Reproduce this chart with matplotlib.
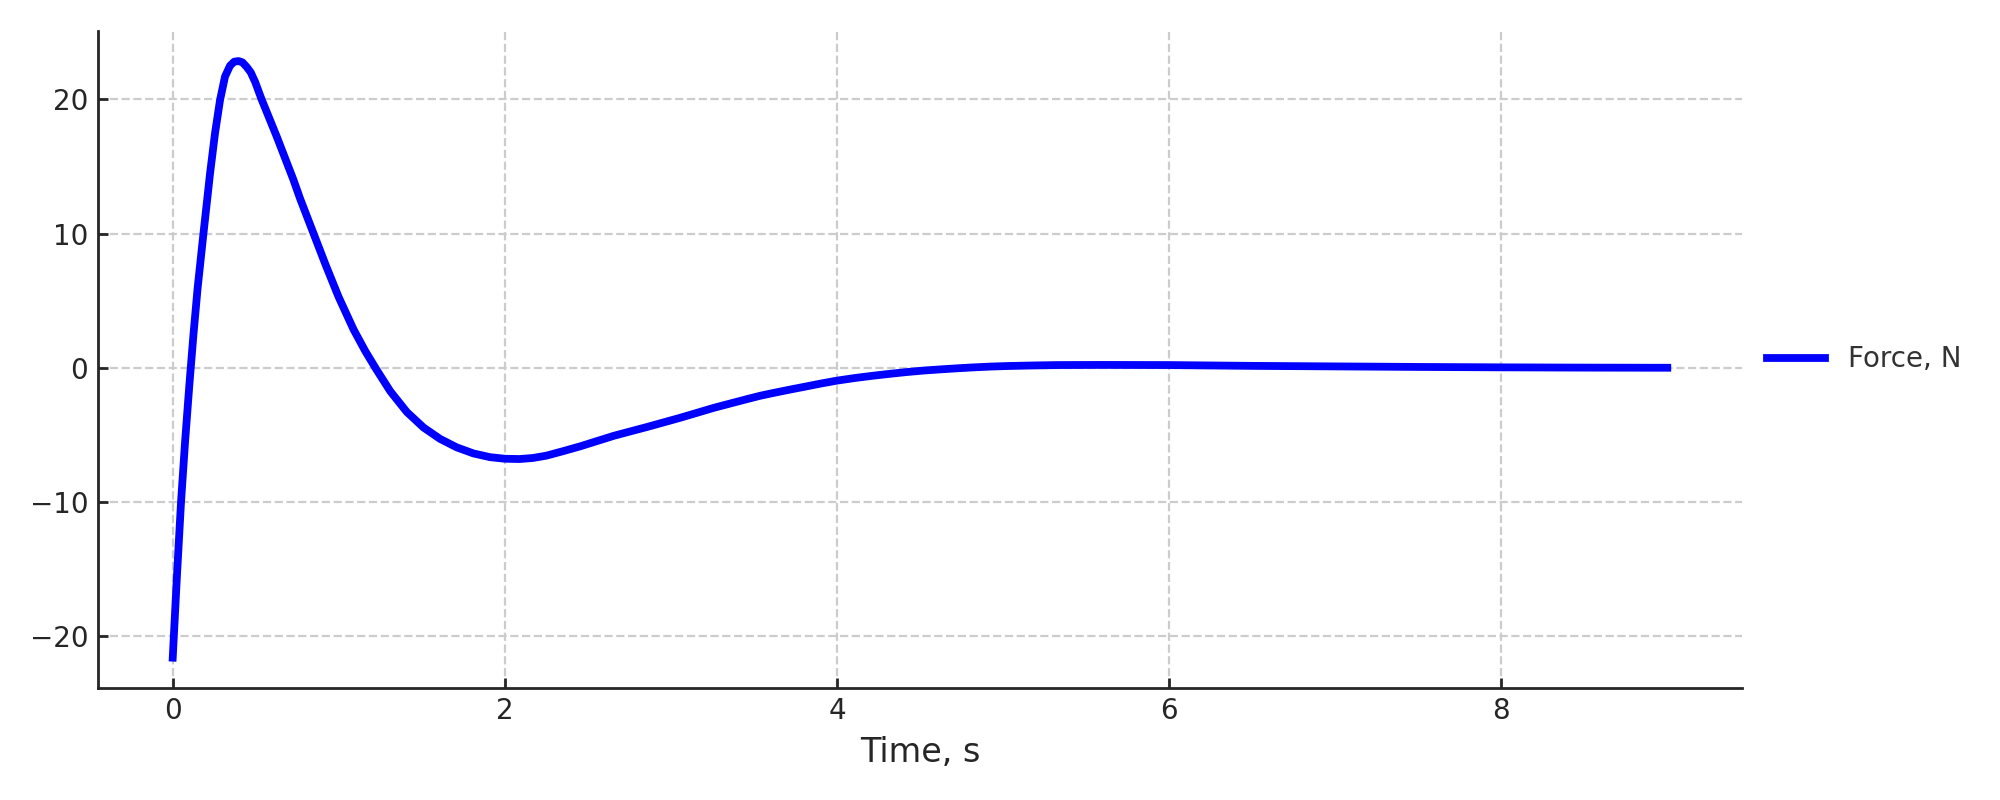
import matplotlib
matplotlib.use("Agg")
import matplotlib.pyplot as plt

time_s = [0, 0.025, 0.05, 0.075, 0.1, 0.125, 0.15, 0.185, 0.225, 0.255, 0.285, 0.315,
          0.345, 0.37, 0.396, 0.42, 0.446, 0.47, 0.496, 0.535, 0.627, 0.727, 0.767, 0.848,
          0.918, 0.998, 1.089, 1.159, 1.225, 1.31, 1.41, 1.51, 1.61, 1.71, 1.81, 1.91,
          2.0, 2.09, 2.17, 2.25, 2.355, 2.455, 2.656, 2.857, 3.058, 3.26, 3.46, 3.54,
          3.62, 3.72, 3.82, 3.91, 4.0, 4.11, 4.22, 4.32, 4.42, 4.52, 4.625, 4.726,
          4.826, 4.93, 5.03, 5.18, 5.33, 5.6, 6.0, 6.5, 7.0, 7.5, 8.0, 8.5, 9.0]
force_n = [-21.6, -15.6, -10.0, -5.4, -1.3, 2.5, 5.95, 10.0, 14.5, 17.5, 19.95, 21.7,
           22.5, 22.8, 22.85, 22.75, 22.4, 22.0, 21.3, 20.0, 17.2, 14.0, 12.6, 10.0,
           7.75, 5.3, 2.85, 1.25, -0.1, -1.75, -3.3, -4.45, -5.3, -5.93, -6.38, -6.66,
           -6.78, -6.8, -6.72, -6.55, -6.2, -5.85, -5.07, -4.41, -3.72, -2.98, -2.33, -2.08,
           -1.87, -1.62, -1.38, -1.16, -0.96, -0.76, -0.59, -0.45, -0.32, -0.21, -0.12, -0.04,
           0.03, 0.09, 0.13, 0.17, 0.2, 0.21, 0.2, 0.14, 0.1, 0.06, 0.03, 0.01, 0.0]

text_col = "#262626"
fig, ax = plt.subplots(figsize=(10, 4), dpi=200)
fig.subplots_adjust(left=0.049, right=0.871, bottom=0.1406, top=0.961)

ax.plot(time_s, force_n, color="blue", linewidth=2.8, label="Force, N")

ax.grid(True, linestyle="--", color="#cccccc", linewidth=0.8)
ax.set_axisbelow(True)
for s in ["top", "right"]:
    ax.spines[s].set_visible(False)
for s in ["left", "bottom"]:
    ax.spines[s].set_color(text_col)
    ax.spines[s].set_linewidth(1.0)

ax.tick_params(direction="in", length=3.5, width=1.0, color=text_col,
               labelsize=10, labelcolor=text_col)
ax.set_xticks([0, 2, 4, 6, 8])
ax.set_yticks([-20, -10, 0, 10, 20])
ax.set_xlabel("Time, s", fontsize=12, color=text_col)

leg = ax.legend(loc="center left", bbox_to_anchor=(1.0, 0.5), frameon=False,
                fontsize=10, handlelength=2.1)
for t in leg.get_texts():
    t.set_color("#333333")

fig.savefig("out.png", dpi=200)
